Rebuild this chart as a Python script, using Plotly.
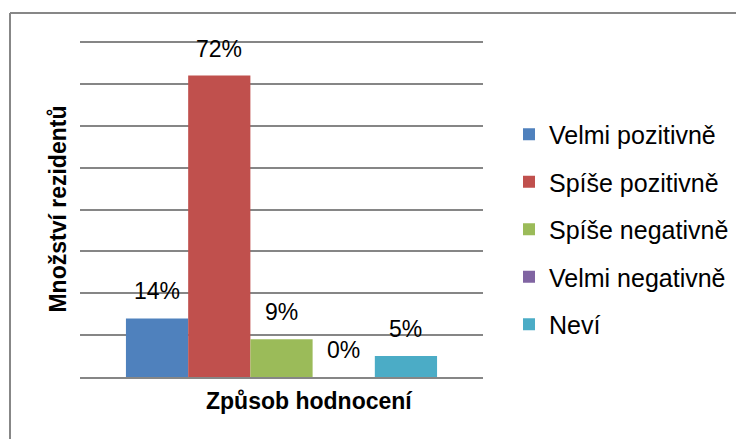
import plotly.graph_objects as go

categories = ["Způsob hodnocení"]
series_names = ["Velmi pozitivně", "Spíše pozitivně", "Spíše negativně", "Velmi negativně", "Neví"]
series_values = [0.14, 0.72, 0.09, 0.00, 0.05]
series_colors = ["#4F81BD", "#C0504D", "#9BBB59", "#8064A2", "#4BACC6"]
y_title = "Množství rezidentů"
x_title = "Způsob hodnocení"

# the page has an 8px default body margin, so positions are shifted by OFF
OFF = 8
W, H = 744, 439
Y_MAX = 0.805
plot_w = 403
plot_h = 335 * Y_MAX / 0.8
L = 80 - OFF
T = (377 - plot_h) - OFF
R = W - L - plot_w
B = H - T - plot_h
bargap = 0.228
FONT = "Liberation Sans"


def px(x):
    return (x - OFF - L) / plot_w


def py(y):
    return (T + plot_h - (y - OFF)) / plot_h


fig = go.Figure()
for i, (name, val, col) in enumerate(zip(series_names, series_values, series_colors)):
    fig.add_trace(go.Bar(
        x=categories, y=[val], name=name, marker=dict(color=col, line=dict(width=0)),
        legendgroup=name,
    ))

# data labels above bars
n = len(series_names)
bar_px = plot_w * (1 - bargap) / n
for i, val in enumerate(series_values):
    fig.add_annotation(
        x=categories[0], y=val, xref="x", yref="y",
        text=f"{round(val*100)}%", showarrow=False,
        xshift=(i - (n - 1) / 2) * bar_px, yshift=27, yanchor="middle",
        font=dict(family=FONT, size=23, color="#000000"),
    )

# axis titles
fig.add_annotation(
    x=px(309), y=py(401), xref="paper", yref="paper",
    text=f"<b>{x_title}</b>", showarrow=False, xanchor="center", yanchor="middle",
    font=dict(family=FONT, size=23, color="#000000"),
)
fig.add_annotation(
    x=px(58), y=py(209.5), xref="paper", yref="paper",
    text=f"<b>{y_title}</b>", showarrow=False, textangle=-90,
    xanchor="center", yanchor="middle",
    font=dict(family=FONT, size=23, color="#000000"),
)

# outer chart frame (top and left edges visible)
fig.add_shape(type="line", xref="paper", yref="paper", x0=px(10), y0=py(13), x1=px(760), y1=py(13),
              line=dict(color="#878787", width=2))
fig.add_shape(type="line", xref="paper", yref="paper", x0=px(10), y0=py(13), x1=px(10), y1=py(460),
              line=dict(color="#878787", width=2))

fig.update_layout(
    width=W, height=H,
    margin=dict(l=L, r=R, t=T, b=B, pad=0),
    paper_bgcolor="white", plot_bgcolor="white",
    barmode="group", bargap=bargap, bargroupgap=0,
    font=dict(family=FONT, size=25, color="#000000"),
    showlegend=True,
    legend=dict(
        x=px(509), y=py(229.5), xanchor="left", yanchor="middle",
        traceorder="grouped", tracegroupgap=12,
        font=dict(family=FONT, size=25, color="#000000"),
        bgcolor="rgba(0,0,0,0)",
    ),
    xaxis=dict(showticklabels=False, ticks="", showgrid=False, zeroline=False,
               showline=True, linecolor="#868686", linewidth=2),
    yaxis=dict(range=[0, Y_MAX], dtick=0.1, showticklabels=False, ticks="",
               showgrid=True, gridcolor="#868686", gridwidth=2, zeroline=False, showline=False),
)

fig.write_html("out.html")
